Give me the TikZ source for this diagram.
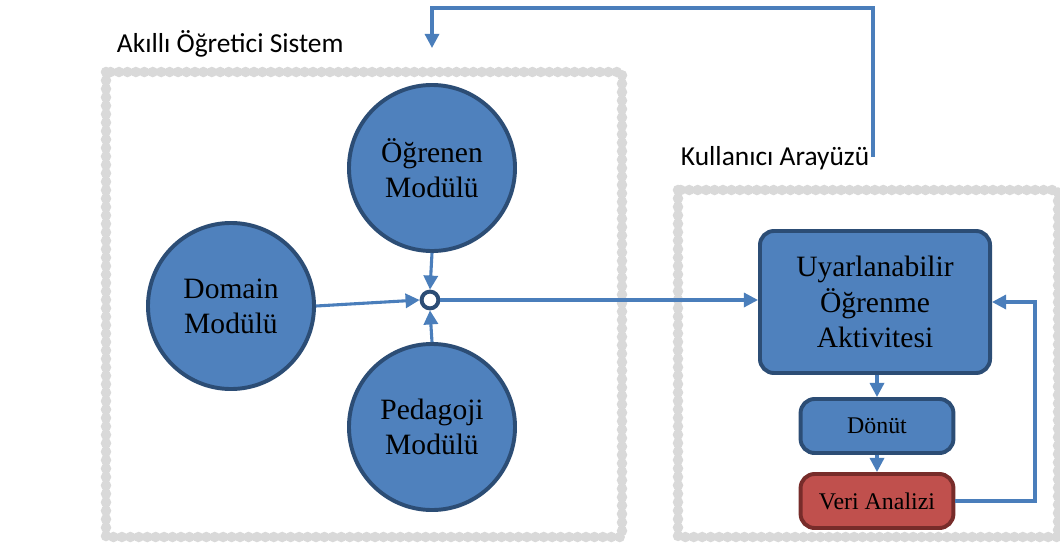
\documentclass[tikz,border=0pt]{standalone}
\usepackage{fontspec}
\setmainfont{Liberation Serif}
\newfontfamily\calibri{Carlito}
\usepackage{xcolor}
\usepackage{tikz}
\usetikzlibrary{arrows.meta,positioning}

\definecolor{modulblue}{HTML}{4F81BD}
\definecolor{moduledge}{HTML}{2C4D75}
\definecolor{veried}{HTML}{C0504D}
\definecolor{veriedge}{HTML}{772C2A}
\definecolor{okblue}{HTML}{4A7EBB}
\definecolor{cercevegray}{HTML}{D9D9D9}

\begin{document}
\begin{tikzpicture}[x=0.025cm, y=-0.025cm, font=\fontsize{21}{25}\selectfont,
    modul/.style={circle, fill=modulblue, draw=moduledge, line width=2.8pt,
      minimum size=4.15cm, inner sep=0pt, align=center},
    kutu/.style={rectangle, rounded corners=10pt, fill=modulblue, draw=moduledge,
      line width=2.8pt, inner sep=0pt, align=center},
    cerceve/.style={draw=cercevegray, line width=7.5pt, line cap=round,
      dash pattern=on 0pt off 6pt},
    baglanti/.style={draw=okblue, line width=2.2pt, -{Triangle[length=10pt,width=10pt]}},
    baslik/.style={anchor=base west, font=\calibri\fontsize{19.5}{22}\selectfont}]
    \useasboundingbox (0,0) rectangle (1060,547);

    % two dotted frames, right one runs off the page
    \draw[cerceve] (106,72) rectangle (622,537);
    \draw[cerceve] (678,190) rectangle (1058,537);
    \node[baslik] (sistem) at (112,52) {Akıllı Öğretici Sistem};
    \node[baslik] (arayuz) at (676,165) {Kullanıcı Arayüzü};

    % modules
    \node[modul] (ogrenen) at (432,168) {Öğrenen\\Modülü};
    \node[modul] (domain) at (231,306) {Domain\\Modülü};
    \node[modul] (pedagoji) at (432,427) {Pedagoji\\Modülü};
    \node[circle, fill=white, draw=moduledge, line width=2.8pt, minimum size=0.42cm,
      inner sep=0pt] (hub) at (430,300) {};

    % interface boxes
    \node[kutu, minimum width=5.75cm, minimum height=3.55cm] (uyarla) at (875,302)
      {Uyarlanabilir\\Öğrenme\\Aktivitesi};
    \node[kutu, minimum width=3.82cm, minimum height=1.35cm,
      font=\fontsize{17}{20}\selectfont] (donut) at (877,426) {Dönüt};
    \node[kutu, fill=veried, draw=veriedge, minimum width=3.82cm, minimum height=1.35cm,
      font=\fontsize{17}{20}\selectfont] (veri) at (877,501) {Veri Analizi};

    \coordinate (cikis) at (873,157);
    \coordinate (giris) at (432,48);
    \coordinate (donus) at (1035,0);

    \draw[baglanti] (domain.east) -- (hub.west);
    \draw[baglanti] (ogrenen.south) -- (hub.north);
    \draw[baglanti] (pedagoji.north) -- (hub.south);
    \draw[baglanti] (hub.east) -- (hub.east -| uyarla.west);
    \draw[baglanti] (uyarla.south -| donut.north) -- (donut.north);
    \draw[baglanti] (donut.south) -- (veri.north);
    \draw[baglanti] (veri.east) -| (donus |- uyarla.east) -- (uyarla.east);
    \draw[baglanti] (cikis) -- ++(0,-149) -| (giris);
\end{tikzpicture}
\end{document}
